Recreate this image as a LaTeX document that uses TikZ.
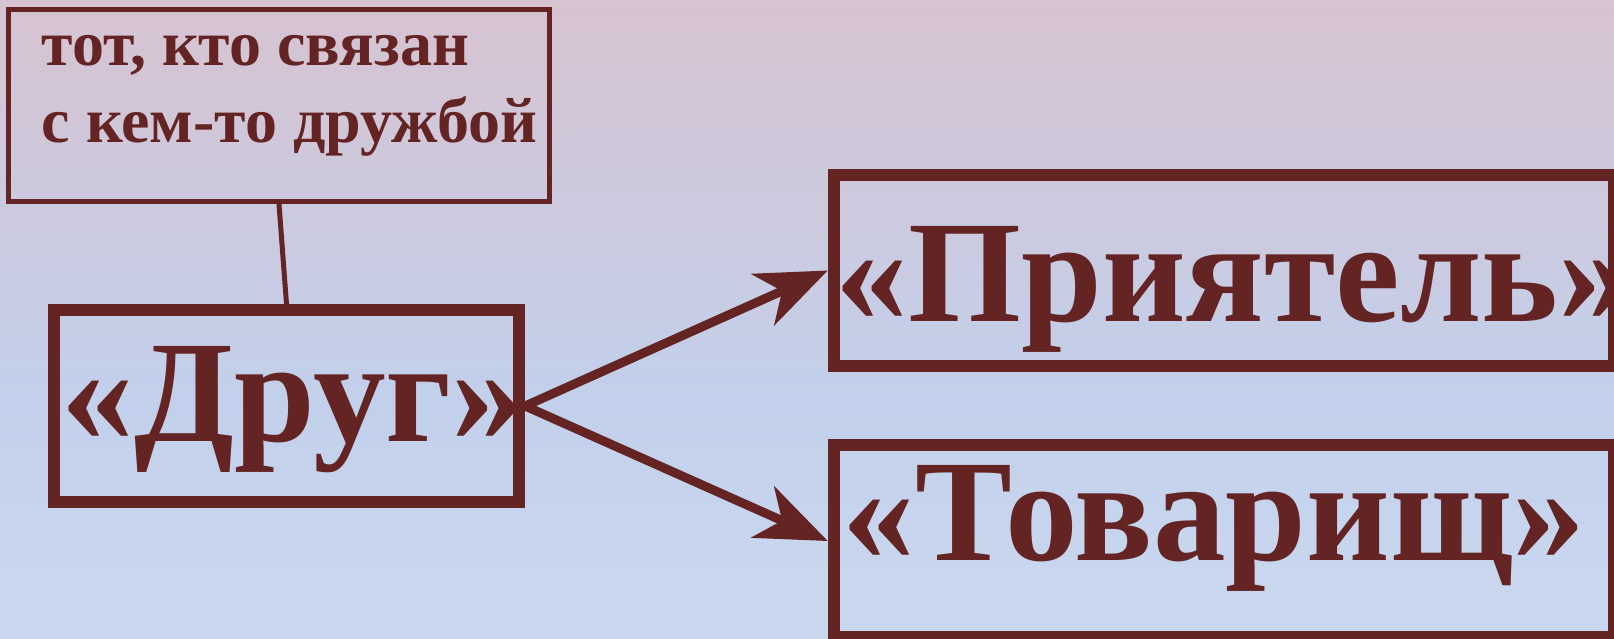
\documentclass[tikz,border=0pt]{standalone}
\usepackage{fontspec}
\setmainfont{Liberation Serif}
\usetikzlibrary{arrows.meta}
\definecolor{maroon}{RGB}{99,36,35}
\definecolor{bgtop}{RGB}{215,195,209}
\definecolor{bgmid}{RGB}{194,208,235}
\definecolor{bgbot}{RGB}{202,216,239}
\begin{document}
\begin{tikzpicture}[x=0.01cm,y=-0.01cm]
    \tikzstyle{thinbox}=[rectangle,draw=maroon,line width=0.05cm,minimum width=5.41cm,minimum height=1.92cm,inner sep=0pt]
    \tikzstyle{thickbox}=[rectangle,draw=maroon,line width=0.12cm,inner sep=0pt]
    \tikzstyle{bigword}=[text=maroon,font=\bfseries\fontsize{41.3}{48}\selectfont,inner sep=0pt,anchor=base west]
    \tikzstyle{smallword}=[text=maroon,font=\bfseries\fontsize{18.2}{22}\selectfont,inner sep=0pt,anchor=base west]
    \tikzstyle{link}=[draw=maroon,line width=0.09cm,-{Stealth[length=0.71cm,width=0.56cm,inset=0.21cm]}]

    \useasboundingbox (0,0) rectangle (1614,639);
    \clip (0,0) rectangle (1614,639);
    \shade[top color=bgtop, bottom color=bgmid] (0,0) rectangle (1614,400);
    \shade[top color=bgmid, bottom color=bgbot] (0,399) rectangle (1614,639);

    % boxes
    \node[thinbox] (defbox) at (279,105.5) {};
    \node[thickbox,minimum width=4.65cm,minimum height=1.92cm] (drug) at (286.5,406) {};
    \node[thickbox,minimum width=7.8cm,minimum height=1.91cm] (pri) at (1224,270.5) {};
    \node[thickbox,minimum width=7.8cm,minimum height=1.92cm] (tov) at (1224,541) {};

    % texts
    \node[smallword] (def1) at (41,65) {тот, кто связан};
    \node[smallword] (def2) at (41,142) {с кем-то дружбой};
    \node[bigword] (drugtxt) at (61,441) {«Друг»};
    \node[bigword] (pritxt) at (835,321) {«Приятель»};
    \node[bigword] (tovtxt) at (842,560) {«Товарищ»};

    % connectors
    \draw[draw=maroon, line width=0.05cm] (defbox.south) -- (drug.north);
    \draw[link] (drug.east) -- (pri.west);
    \draw[link] (drug.east) -- (tov.west);

\end{tikzpicture}
\end{document}
